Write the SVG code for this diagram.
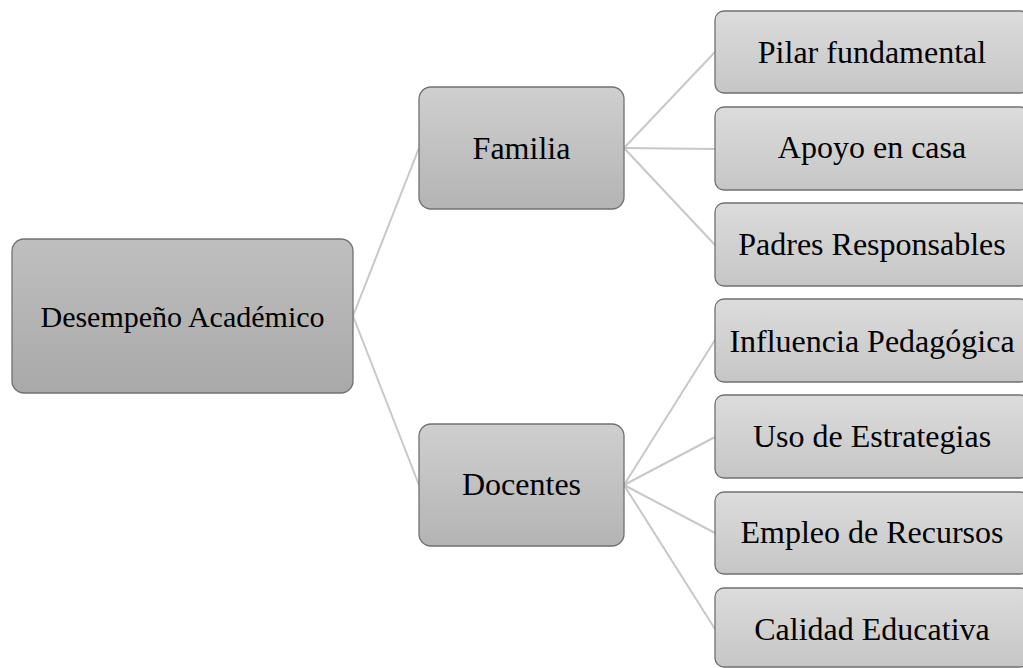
<svg xmlns="http://www.w3.org/2000/svg" width="1023" height="668" viewBox="0 0 1023 668">
<defs>
<linearGradient id="g0" x1="0" y1="0" x2="0" y2="1"><stop offset="0" stop-color="#bfbfbf"/><stop offset="1" stop-color="#a9a9a9"/></linearGradient>
<linearGradient id="g1" x1="0" y1="0" x2="0" y2="1"><stop offset="0" stop-color="#cfcfcf"/><stop offset="1" stop-color="#b4b4b4"/></linearGradient>
<linearGradient id="g2" x1="0" y1="0" x2="0" y2="1"><stop offset="0" stop-color="#dcdcdc"/><stop offset="1" stop-color="#c6c6c6"/></linearGradient>
</defs>
<style>
.box{stroke:#707070;stroke-width:1.3}
.t{font-family:"Liberation Serif","Times New Roman",serif;font-size:32px;fill:#000;text-anchor:middle}
.r{font-size:30px}
.c{stroke:#c8c8c8;stroke-width:2;fill:none}
</style>
<rect width="1023" height="668" fill="#fff"/>
<g id="connectors">
<line class="c" x1="353" y1="316" x2="419" y2="148"/>
<line class="c" x1="353" y1="316" x2="419" y2="485"/>
<line class="c" x1="624" y1="148" x2="715" y2="52"/>
<line class="c" x1="624" y1="148" x2="715" y2="149"/>
<line class="c" x1="624" y1="148" x2="715" y2="245"/>
<line class="c" x1="624" y1="485" x2="715" y2="340"/>
<line class="c" x1="624" y1="485" x2="715" y2="437"/>
<line class="c" x1="624" y1="485" x2="715" y2="533"/>
<line class="c" x1="624" y1="485" x2="715" y2="629"/>
</g>
<g id="root"><rect class="box" x="12" y="239" width="341" height="154" rx="12" fill="url(#g0)"/><text class="t r" x="182.5" y="327">Desempeño Académico</text></g>
<g id="familia"><rect class="box" x="419" y="87" width="205" height="122" rx="12" fill="url(#g1)"/><text class="t" x="521.5" y="159">Familia</text></g>
<g id="docentes"><rect class="box" x="419" y="424" width="205" height="122" rx="12" fill="url(#g1)"/><text class="t" x="521.5" y="495">Docentes</text></g>
<g id="pilar"><rect class="box" x="715" y="11" width="314" height="82" rx="9" fill="url(#g2)"/><text class="t" x="872" y="63">Pilar fundamental</text></g>
<g id="apoyo"><rect class="box" x="715" y="107" width="314" height="83" rx="9" fill="url(#g2)"/><text class="t" x="872" y="158">Apoyo en casa</text></g>
<g id="padres"><rect class="box" x="715" y="203" width="314" height="83" rx="9" fill="url(#g2)"/><text class="t" x="872" y="255">Padres Responsables</text></g>
<g id="influencia"><rect class="box" x="715" y="299" width="314" height="83" rx="9" fill="url(#g2)"/><text class="t" x="872" y="352">Influencia Pedagógica</text></g>
<g id="uso"><rect class="box" x="715" y="395" width="314" height="83" rx="9" fill="url(#g2)"/><text class="t" x="872" y="447">Uso de Estrategias</text></g>
<g id="empleo"><rect class="box" x="715" y="492" width="314" height="82" rx="9" fill="url(#g2)"/><text class="t" x="872" y="543">Empleo de Recursos</text></g>
<g id="calidad"><rect class="box" x="715" y="588" width="314" height="79" rx="9" fill="url(#g2)"/><text class="t" x="872" y="640">Calidad Educativa</text></g>
</svg>
